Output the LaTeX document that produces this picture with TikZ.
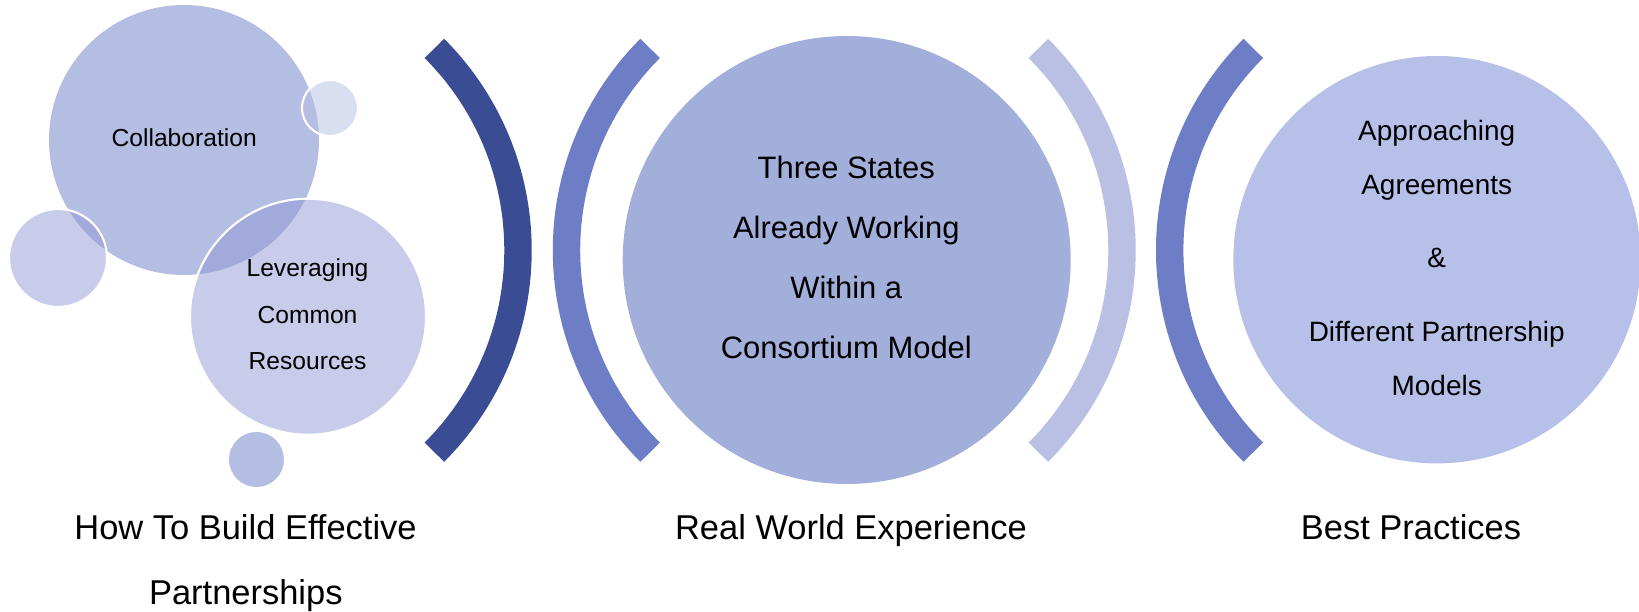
\documentclass[tikz,border=0pt]{standalone}
\usepackage{fontspec}
\setmainfont{Liberation Sans}
\definecolor{banddark}{HTML}{3A4C94}
\definecolor{bandmid}{HTML}{6D7DC6}
\definecolor{bandlight}{HTML}{B9C0E3}
\definecolor{bubblemain}{HTML}{B4BDE2}
\definecolor{bubbledeep}{HTML}{9199D5}
\definecolor{bubblecentre}{HTML}{A2AFDA}
\definecolor{bubbleright}{HTML}{B6C0E8}
\begin{document}
\begin{tikzpicture}[x=0.01cm,y=0.01cm,
    bubble/.style={fill=#1,draw=white,line width=0.6pt},
    glass/.style={fill=#1,fill opacity=0.5,draw=white,line width=0.6pt},
    band/.style={draw=#1,line width=7.8pt},
    inner/.style={anchor=base,inner sep=0pt,font=\fontsize{7}{8}\selectfont},
    centre/.style={anchor=base,inner sep=0pt,font=\fontsize{8.8}{10}\selectfont},
    side/.style={anchor=base,inner sep=0pt,font=\fontsize{7.95}{9}\selectfont},
    caption/.style={anchor=base,inner sep=0pt,font=\fontsize{9.8}{11}\selectfont}]
      \useasboundingbox (0,0) rectangle (1639,612);
      \fill[bubblemain] (184,472) circle[radius=135];
      \draw[glass=bubblemain] (330,504) circle[radius=28];
      \draw[glass=bubbledeep] (58,354) circle[radius=49];
      \draw[glass=bubbledeep] (308,295.3) circle[radius=118];
      \fill[bubblemain] (256.5,152.5) circle[radius=27.5];
      \fill[bubblecentre] (846.7,352) circle[radius=224];
      \fill[bubbleright] (1437,352.3) circle[radius=203.7];
      \begin{scope}[line cap=butt]
        \draw[band=banddark] (232.5,361.7) ++(45:285.5) arc[start angle=45,end angle=-45,radius=285.5];
        \draw[band=bandmid] (852,361.7) ++(135:285.5) arc[start angle=135,end angle=225,radius=285.5];
        \draw[band=bandlight] (836.5,361.7) ++(45:285.5) arc[start angle=45,end angle=-45,radius=285.5];
        \draw[band=bandmid] (1455.2,361.7) ++(135:285.5) arc[start angle=135,end angle=225,radius=285.5];
      \end{scope}
      \node[inner] (collab) at (184.2,465.3) {Collaboration};
      \node[inner] (lever1) at (307.5,335.3) {Leveraging};
      \node[inner] (lever2) at (307.5,288.7) {Common};
      \node[inner] (lever3) at (307.5,242) {Resources};
      \node[centre] (states1) at (846.3,433.7) {Three States};
      \node[centre] (states2) at (846.3,373.7) {Already Working};
      \node[centre] (states3) at (846.3,313.7) {Within a};
      \node[centre] (states4) at (846.3,253.7) {Consortium Model};
      \node[side] (agree1) at (1436.7,471) {Approaching};
      \node[side] (agree2) at (1436.7,417.7) {Agreements};
      \node[side] (amp) at (1436.7,344.5) {\&};
      \node[side] (models1) at (1436.7,270) {Different Partnership};
      \node[side] (models2) at (1436.7,216.5) {Models};
      \node[caption] (howto1) at (245.5,72) {How To Build Effective};
      \node[caption] (howto2) at (245.8,8) {Partnerships};
      \node[caption] (world) at (851,72) {Real World Experience};
      \node[caption] (best) at (1411,72) {Best Practices};
    \end{tikzpicture}
\end{document}
